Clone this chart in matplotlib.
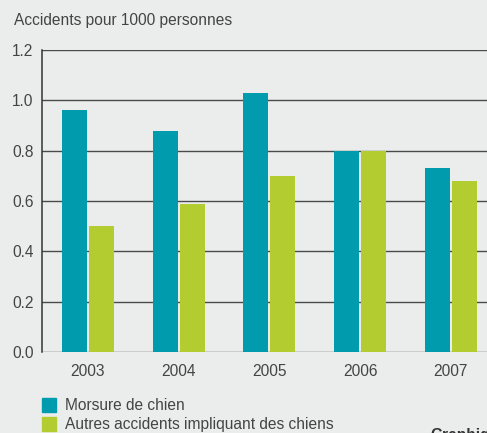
import matplotlib
matplotlib.use("Agg")
import matplotlib.pyplot as plt
import numpy as np
from matplotlib.patches import Rectangle

years = ["2003", "2004", "2005", "2006", "2007"]
morsure = [0.96, 0.88, 1.03, 0.80, 0.73]
autres = [0.50, 0.59, 0.70, 0.80, 0.68]
series_names = ["Morsure de chien", "Autres accidents impliquant des chiens"]
yticks = [0.0, 0.2, 0.4, 0.6, 0.8, 1.0, 1.2]

teal = "#009BAD"
green = "#B3CC2F"
bg = "#EBEDEC"
txt = "#444444"

plt.rcParams['font.family'] = ['Liberation Sans', 'DejaVu Sans']

W, H = 487, 433
fig = plt.figure(figsize=(W/100, H/100), dpi=100, facecolor=bg)
ax = fig.add_axes([42/W, (H-352)/H, 1 - 42/W, (352-50)/H])
ax.set_facecolor(bg)

x = np.arange(len(years))
bw = 0.275
off = 0.149
ax.bar(x - off, morsure, bw, color=teal, zorder=3)
ax.bar(x + off, autres, bw, color=green, zorder=3)

ax.set_xlim(-0.507, 4.40)
ax.set_ylim(0, 1.2)
for v in yticks:
    ax.axhline(v, color="#4a4a4a", lw=1.0, zorder=2)

for s in ["top", "right", "bottom"]:
    ax.spines[s].set_visible(False)
ax.spines["left"].set_color("#333333")
ax.spines["left"].set_linewidth(1.1)

fs = 11.2
ax.set_yticks(yticks)
ax.set_yticklabels([f"{v:.1f}" for v in yticks], fontsize=fs, color=txt)
ax.set_xticks(x)
ax.set_xticklabels(years, fontsize=fs, color=txt)
ax.tick_params(axis="both", length=0)
ax.tick_params(axis="y", pad=6)
ax.tick_params(axis="x", pad=9)

fig.text(14/W, (H-20)/H, "Accidents pour 1000 personnes", fontsize=fs,
         color=txt, ha="left", va="center")

# legend
for i, (c, name) in enumerate(zip([teal, green], series_names)):
    y0 = 398 + i * 19
    fig.patches.append(Rectangle((42/W, (H - y0 - 14)/H), 14/W, 14/H,
                                 transform=fig.transFigure, color=c))
    fig.text(65/W, (H - y0 - 7)/H, name, fontsize=fs, color=txt,
             ha="left", va="center")

fig.text(430/W, (H-428)/H, "Graphique", fontsize=fs, color="#333333",
         fontweight="bold", ha="left", va="top")

fig.savefig("out.png", dpi=100, facecolor=bg)
